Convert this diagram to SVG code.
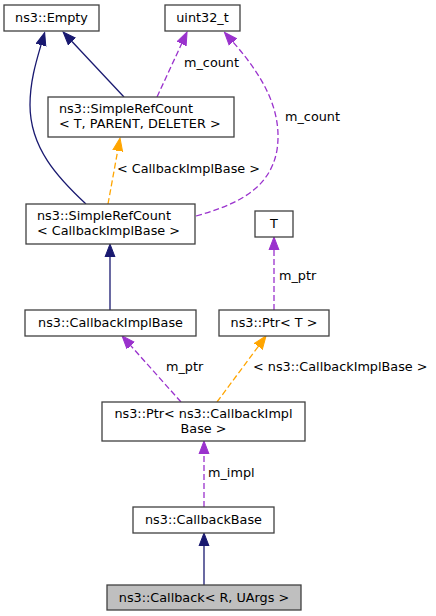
<svg xmlns="http://www.w3.org/2000/svg" width="436" height="616" viewBox="0 0 436 616">
<style>
text{font-family:"DejaVu Sans","Liberation Sans",sans-serif;font-size:12.8px;fill:#000}
.box{fill:#fff;stroke:#404040;stroke-width:1.3}
.hl{fill:#bfbfbf;stroke:#404040;stroke-width:1.3}
.c{text-anchor:middle}
.e{fill:none;stroke-width:1.3}
.blue{stroke:#191970}
.pur{stroke:#9a32cd;stroke-dasharray:6,3}
.org{stroke:#ffa500;stroke-dasharray:6,3}
</style>
<defs>
<marker id="mb" viewBox="0 -6 14 12" markerWidth="14" markerHeight="12" refX="0" refY="0" orient="auto" markerUnits="userSpaceOnUse"><path d="M0,-5 L13,0 L0,5 z" fill="#191970" stroke="#191970"/></marker>
<marker id="mp" viewBox="0 -6 14 12" markerWidth="14" markerHeight="12" refX="0" refY="0" orient="auto" markerUnits="userSpaceOnUse"><path d="M0,-5 L13,0 L0,5 z" fill="#9a32cd" stroke="#9a32cd"/></marker>
<marker id="mo" viewBox="0 -6 14 12" markerWidth="14" markerHeight="12" refX="0" refY="0" orient="auto" markerUnits="userSpaceOnUse"><path d="M0,-5 L13,0 L0,5 z" fill="#ffa500" stroke="#ffa500"/></marker>
</defs>
<g id="connectors">
<path class="e blue" d="M86,204 C58,178 30,148 30,105 C30,82 36,62 41,45" marker-end="url(#mb)"/>
<path class="e blue" d="M124,97 L72,41.5" marker-end="url(#mb)"/>
<path class="e pur" d="M157,97 L181.6,43.8" marker-end="url(#mp)"/>
<text x="184" y="67">m_count</text>
<path class="e pur" d="M196,216 C235,205 270,190 277,150 C283,110 262,75 233,42" marker-end="url(#mp)"/>
<text x="285" y="121">m_count</text>
<path class="e org" d="M108,204 L117.7,150.8" marker-end="url(#mo)"/>
<text x="117" y="173">&lt; CallbackImplBase &gt;</text>
<path class="e blue" d="M110,310 L110,257" marker-end="url(#mb)"/>
<path class="e pur" d="M274,310 L274,250" marker-end="url(#mp)"/>
<text x="279" y="280">m_ptr</text>
<path class="e pur" d="M181,402 L130.7,345.6" marker-end="url(#mp)"/>
<text x="166" y="371">m_ptr</text>
<path class="e org" d="M217,402 L258.3,346.4" marker-end="url(#mo)"/>
<text x="253" y="371">&lt; ns3::CallbackImplBase &gt;</text>
<path class="e pur" d="M204,507 L204,454" marker-end="url(#mp)"/>
<text x="208" y="477">m_impl</text>
<path class="e blue" d="M204,585 L204,546" marker-end="url(#mb)"/>
</g>
<g id="empty"><rect class="box" x="4" y="5" width="95" height="26"/><text class="c" x="51.5" y="22">ns3::Empty</text></g>
<g id="uint32"><rect class="box" x="165" y="5" width="75" height="26"/><text class="c" x="202.5" y="22">uint32_t</text></g>
<g id="srcT"><rect class="box" x="48" y="97" width="186" height="40"/><text x="59" y="113">ns3::SimpleRefCount</text><text x="59" y="128">&lt; T, PARENT, DELETER &gt;</text></g>
<g id="srcCIB"><rect class="box" x="26" y="204" width="169" height="40"/><text x="37" y="220">ns3::SimpleRefCount</text><text x="37" y="235">&lt; CallbackImplBase &gt;</text></g>
<g id="T"><rect class="box" x="255" y="211" width="38" height="26"/><text class="c" x="274" y="228">T</text></g>
<g id="cib"><rect class="box" x="25" y="310" width="171" height="26"/><text class="c" x="110.5" y="327">ns3::CallbackImplBase</text></g>
<g id="ptrT"><rect class="box" x="219" y="310" width="110" height="26"/><text class="c" x="274" y="327">ns3::Ptr&lt; T &gt;</text></g>
<g id="ptrCIB"><rect class="box" x="102" y="402" width="203" height="39"/><text class="c" x="203.5" y="418">ns3::Ptr&lt; ns3::CallbackImpl</text><text class="c" x="203.5" y="433">Base &gt;</text></g>
<g id="cbBase"><rect class="box" x="133" y="507" width="141" height="26"/><text class="c" x="203.5" y="524">ns3::CallbackBase</text></g>
<g id="callback"><rect class="hl" x="107" y="585" width="194" height="25"/><text class="c" x="204" y="602">ns3::Callback&lt; R, UArgs &gt;</text></g>
</svg>
